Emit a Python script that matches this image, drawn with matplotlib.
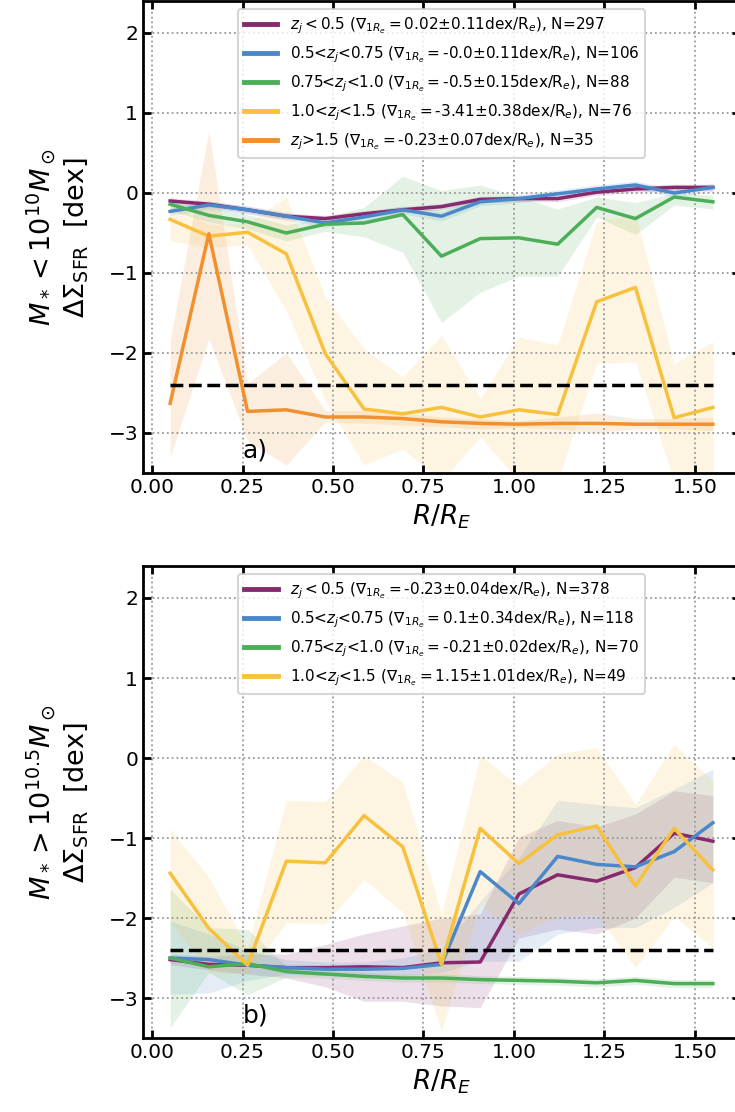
import numpy as np
import matplotlib
matplotlib.use('Agg')
import matplotlib.pyplot as plt

# radial bins (R/R_E)
r = [0.05, 0.157, 0.264, 0.371, 0.479, 0.586, 0.693, 0.80, 0.907, 1.014, 1.121, 1.229, 1.336, 1.443, 1.55]

colors = ['#862a70', '#4a88c9', '#4cae57', '#f8c13d', '#f1902d']

# ---- panel a: M* < 1e10
labels_a = [r'$z_j < 0.5$ ($\nabla_{1R_e} = 0.02$±0.11dex/R$_e$), N=297',
            r'0.5<$z_j$<0.75 ($\nabla_{1R_e} = $-0.0±0.11dex/R$_e$), N=106',
            r'0.75<$z_j$<1.0 ($\nabla_{1R_e} = $-0.5±0.15dex/R$_e$), N=88',
            r'1.0<$z_j$<1.5 ($\nabla_{1R_e} = $-3.41±0.38dex/R$_e$), N=76',
            r'$z_j$>1.5 ($\nabla_{1R_e} = $-0.23±0.07dex/R$_e$), N=35']

a_purple = [-0.10, -0.14, -0.21, -0.29, -0.32, -0.26, -0.21, -0.17, -0.08, -0.07, -0.07, 0.01, 0.05, 0.07, 0.07]
a_purple_hi = [-0.06, -0.10, -0.17, -0.25, -0.28, -0.22, -0.17, -0.13, -0.04, -0.03, -0.03, 0.05, 0.09, 0.11, 0.11]
a_purple_lo = [-0.14, -0.18, -0.25, -0.33, -0.36, -0.30, -0.25, -0.21, -0.12, -0.11, -0.11, -0.03, 0.01, 0.03, 0.03]

a_blue = [-0.23, -0.15, -0.21, -0.29, -0.375, -0.30, -0.21, -0.29, -0.11, -0.07, -0.01, 0.05, 0.10, 0.0, 0.07]
a_blue_hi = [-0.18, -0.10, -0.16, -0.24, -0.32, -0.25, -0.16, -0.23, -0.06, -0.02, 0.04, 0.10, 0.15, 0.05, 0.12]
a_blue_lo = [-0.28, -0.20, -0.26, -0.34, -0.43, -0.35, -0.26, -0.35, -0.16, -0.12, -0.06, 0.0, 0.05, -0.05, 0.02]

a_green = [-0.14, -0.28, -0.36, -0.50, -0.39, -0.375, -0.27, -0.79, -0.57, -0.56, -0.64, -0.18, -0.32, -0.05, -0.11]
a_green_hi = [-0.06, -0.18, -0.27, -0.40, -0.30, -0.18, 0.21, 0.03, 0.10, -0.05, -0.20, -0.05, -0.12, 0.0, -0.03]
a_green_lo = [-0.22, -0.36, -0.45, -0.60, -0.48, -0.55, -0.74, -1.62, -1.24, -1.04, -1.04, -0.30, -0.52, -0.15, -0.20]

a_yellow = [-0.33, -0.54, -0.49, -0.76, -2.01, -2.70, -2.76, -2.68, -2.80, -2.71, -2.77, -1.36, -1.18, -2.81, -2.68]
a_yellow_hi = [-0.10, -0.40, -0.38, -0.05, -1.30, -1.95, -2.30, -1.78, -2.57, -1.80, -1.90, -0.36, -0.26, -2.13, -1.86]
a_yellow_lo = [-0.60, -0.68, -0.65, -1.47, -2.60, -3.40, -3.20, -3.60, -3.05, -3.60, -3.60, -2.13, -2.11, -3.60, -3.60]

a_orange = [-2.63, -0.51, -2.73, -2.71, -2.80, -2.80, -2.82, -2.86, -2.88, -2.89, -2.88, -2.88, -2.89, -2.89, -2.89]
a_orange_hi = [-1.85, 0.78, -2.38, -2.00, -2.72, -2.72, -2.75, -2.80, -2.82, -2.85, -2.80, -2.75, -2.82, -2.82, -2.80]
a_orange_lo = [-3.30, -1.82, -3.10, -3.40, -2.86, -2.88, -2.90, -2.92, -2.95, -2.93, -2.95, -3.00, -2.95, -2.95, -2.97]

# ---- panel b: M* > 10^10.5
labels_b = [r'$z_j < 0.5$ ($\nabla_{1R_e} = $-0.23±0.04dex/R$_e$), N=378',
            r'0.5<$z_j$<0.75 ($\nabla_{1R_e} = 0.1$±0.34dex/R$_e$), N=118',
            r'0.75<$z_j$<1.0 ($\nabla_{1R_e} = $-0.21±0.02dex/R$_e$), N=70',
            r'1.0<$z_j$<1.5 ($\nabla_{1R_e} = 1.15$±1.01dex/R$_e$), N=49']

b_purple = [-2.52, -2.58, -2.59, -2.62, -2.62, -2.61, -2.62, -2.56, -2.55, -1.70, -1.46, -1.54, -1.37, -0.94, -1.04]
b_purple_hi = [-2.45, -2.48, -2.45, -2.45, -2.33, -2.20, -2.10, -2.00, -1.95, -0.99, -0.78, -0.86, -0.70, -0.41, -0.47]
b_purple_lo = [-2.58, -2.65, -2.70, -2.75, -2.86, -3.04, -3.04, -3.10, -3.12, -2.25, -2.14, -2.20, -2.00, -1.49, -1.56]

b_blue = [-2.50, -2.52, -2.59, -2.62, -2.64, -2.64, -2.63, -2.58, -1.42, -1.82, -1.23, -1.33, -1.36, -1.17, -0.81]
b_blue_hi = [-2.04, -2.20, -2.40, -2.52, -2.55, -2.55, -2.50, -2.38, -1.79, -1.24, -0.53, -0.58, -0.62, -0.39, -0.14]
b_blue_lo = [-2.95, -2.94, -2.78, -2.70, -2.72, -2.72, -2.72, -2.68, -2.54, -2.54, -2.20, -2.12, -2.12, -1.87, -1.56]

b_green = [-2.50, -2.61, -2.57, -2.67, -2.70, -2.73, -2.75, -2.75, -2.77, -2.78, -2.79, -2.81, -2.78, -2.82, -2.82]
b_green_hi = [-1.64, -2.12, -2.14, -2.60, -2.65, -2.68, -2.70, -2.70, -2.72, -2.73, -2.74, -2.76, -2.73, -2.77, -2.77]
b_green_lo = [-3.37, -2.68, -2.96, -2.74, -2.75, -2.78, -2.80, -2.80, -2.82, -2.83, -2.84, -2.86, -2.83, -2.87, -2.87]

b_yellow = [-1.44, -2.13, -2.59, -1.29, -1.31, -0.72, -1.11, -2.58, -0.88, -1.32, -0.96, -0.85, -1.60, -0.88, -1.40]
b_yellow_hi = [-0.89, -1.49, -2.37, -0.53, -0.54, 0.03, -0.30, -1.95, 0.03, -0.35, 0.05, 0.13, -0.58, 0.17, -0.28]
b_yellow_lo = [-2.04, -2.68, -2.70, -2.06, -2.07, -1.52, -1.93, -3.42, -1.83, -2.20, -1.98, -1.95, -2.62, -1.98, -2.37]

sfr_cut = -2.4

plt.rcParams['font.family'] = 'DejaVu Sans'
plt.rcParams['mathtext.fontset'] = 'dejavusans'

fig = plt.figure(figsize=(7.35, 11.12), dpi=100)
ax1 = fig.add_axes([143/735, 639/1112, 597/735, 472/1112])
ax2 = fig.add_axes([143/735, 74/1112, 597/735, 472/1112])

series_a = [(a_purple, a_purple_lo, a_purple_hi), (a_blue, a_blue_lo, a_blue_hi),
            (a_green, a_green_lo, a_green_hi), (a_yellow, a_yellow_lo, a_yellow_hi),
            (a_orange, a_orange_lo, a_orange_hi)]
series_b = [(b_purple, b_purple_lo, b_purple_hi), (b_blue, b_blue_lo, b_blue_hi),
            (b_green, b_green_lo, b_green_hi), (b_yellow, b_yellow_lo, b_yellow_hi)]

for ax, series, labels, tag, ylab in [
        (ax1, series_a, labels_a, 'a)', r'$M_* < 10^{10}M_\odot$' + '\n' + r'$\Delta\Sigma_{\rm SFR}$  [dex]'),
        (ax2, series_b, labels_b, 'b)', r'$M_* > 10^{10.5}M_\odot$' + '\n' + r'$\Delta\Sigma_{\rm SFR}$  [dex]')]:
    for i in range(len(series)):
        med, lo, hi = series[i]
        ax.fill_between(r, lo, hi, color=colors[i], alpha=0.15, lw=0)
        ax.plot(r, med, color=colors[i], lw=2.5, label=labels[i])
    ax.hlines(sfr_cut, r[0], r[-1], color='k', ls='--', lw=2.5)
    ax.set_xlim(-0.025, 1.625)
    ax.set_ylim(-3.5, 2.4)
    ax.set_xticks([0, 0.25, 0.5, 0.75, 1.0, 1.25, 1.5])
    ax.set_yticks([-3, -2, -1, 0, 1, 2])
    ax.grid(True, ls=':', color='0.6', lw=1.3)
    ax.tick_params(direction='in', top=True, right=True, length=6, width=2, labelsize=14.5)
    for s in ax.spines.values():
        s.set_linewidth(2)
    ax.text(0.25, -3.22, tag, fontsize=18, va='center', ha='left')
    ax.set_xlabel(r'$R/R_E$', fontsize=19, labelpad=4)
    ax.set_ylabel(ylab, fontsize=19.5, labelpad=13)
    leg = ax.legend(loc='upper center', fontsize=11, handlelength=2.2, borderaxespad=0.55,
                    labelspacing=0.55)
    leg.get_frame().set_linewidth(1.5)
    for l in leg.get_lines():
        l.set_linewidth(3.5)

plt.savefig('out.png', dpi=100)
plt.close()
